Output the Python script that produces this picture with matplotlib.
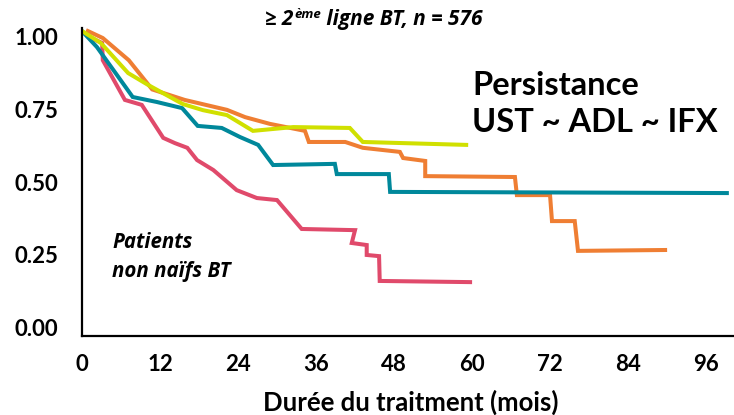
import numpy as np
import matplotlib.pyplot as plt
import matplotlib.transforms as mtransforms

# persistance curves, months vs fraction still on treatment
pink_t = [1.0, 3.1, 3.2, 6.6, 9.2, 12.5, 14.3, 16.2, 17.7, 20.2, 23.8, 26.9, 30.0,
          33.8, 42.0, 41.5, 43.8, 43.8, 45.7, 45.8, 59.7]
pink_s = [0.98, 0.959, 0.90, 0.764, 0.747, 0.634, 0.616, 0.60, 0.558, 0.524, 0.455,
          0.428, 0.421, 0.322, 0.318, 0.274, 0.267, 0.233, 0.229, 0.144, 0.140]

yellow_t = [0.0, 2.9, 7.1, 10.2, 15.5, 18.6, 22.3, 26.3, 32.5, 41.2, 43.2, 59.1]
yellow_s = [1.0, 0.959, 0.856, 0.815, 0.75, 0.729, 0.712, 0.658, 0.671, 0.668,
            0.62, 0.61]

orange_t = [0.9, 3.2, 7.2, 10.8, 15.8, 22.3, 25.1, 28.9, 34.3, 34.9, 40.5, 43.2,
            48.9, 49.4, 52.8, 52.8, 66.6, 66.9, 72.0, 72.3, 75.8, 76.3, 89.7]
orange_s = [1.0, 0.976, 0.90, 0.80, 0.764, 0.73, 0.705, 0.682, 0.658, 0.62, 0.62,
            0.60, 0.586, 0.565, 0.555, 0.503, 0.50, 0.438, 0.438, 0.349, 0.349,
            0.247, 0.25]

teal_t = [0.0, 2.3, 7.8, 11.5, 15.4, 17.8, 21.5, 24.3, 27.1, 29.4, 38.9, 39.2,
          47.2, 47.4, 99.2]
teal_s = [1.0, 0.945, 0.774, 0.757, 0.736, 0.675, 0.668, 0.637, 0.61, 0.541,
          0.545, 0.51, 0.51, 0.449, 0.445]

xticks = [0, 12, 24, 36, 48, 60, 72, 84, 96]
yticks = [0.0, 0.25, 0.5, 0.75, 1.0]

plt.rcParams['font.family'] = ['Lato', 'DejaVu Sans']
ital = ['Open Sans', 'DejaVu Sans']

fig = plt.figure(figsize=(7.34, 4.15), dpi=100)
ax = fig.add_axes([0.1117, 0.1904, 0.8883, 0.7421])

lw = 2.9
ax.plot(pink_t, pink_s, color='#E04A6B', lw=lw, solid_joinstyle='miter')
ax.plot(orange_t, orange_s, color='#EF7E33', lw=lw, solid_joinstyle='miter')
ax.plot(teal_t, teal_s, color='#00889B', lw=lw, solid_joinstyle='miter')
ax.plot(yellow_t, yellow_s, color='#D0E000', lw=lw, solid_joinstyle='miter')

ax.set_xlim(0, 100.3)
ax.set_ylim(-0.0445, 1.0103)
for side in ['top', 'right']:
    ax.spines[side].set_visible(False)
for side in ['left', 'bottom']:
    ax.spines[side].set_linewidth(1.6)
    ax.spines[side].set_color('black')

ax.set_xticks(xticks)
ax.set_xticklabels([str(x) for x in xticks])
ax.set_yticks(yticks)
ax.set_yticklabels(['%.2f' % y for y in yticks])
ax.tick_params(axis='both', length=0, labelsize=16)
ax.tick_params(axis='y', pad=17)
ax.tick_params(axis='x', pad=13)
for lab in ax.get_xticklabels() + ax.get_yticklabels():
    lab.set_fontweight('bold')

# y labels sit a little under the gridline values
shift = mtransforms.ScaledTranslation(0, -0.05, fig.dpi_scale_trans)
for lab in ax.get_yticklabels():
    lab.set_transform(lab.get_transform() + shift)

fig.text(411 / 734, 1 - 411 / 415, 'Durée du traitment (mois)', ha='center',
         va='baseline', fontsize=18.5, fontweight='bold')

# title with superscript
t1 = fig.text(265 / 734, 1 - 30 / 415, '≥ 2', ha='left', va='bottom',
              fontsize=15, fontweight='bold', style='italic', family=ital)
t2 = ax.annotate('ème', xy=(1, 1), xycoords=t1, xytext=(0.5, 1),
                 textcoords='offset points', ha='left', va='top',
                 fontsize=9.5, fontweight='bold', style='italic', family=ital,
                 annotation_clip=False)
ax.annotate(' ligne BT, n = 576', xy=(1, 0), xycoords=(t2, t1),
            ha='left', va='bottom', fontsize=15, fontweight='bold',
            style='italic', family=ital, annotation_clip=False)

fig.text(472 / 734, 1 - 95 / 415, 'Persistance', ha='left', va='baseline',
         fontsize=23.5, fontweight='bold')
fig.text(472 / 734, 1 - 132 / 415, 'UST ~ ADL ~ IFX', ha='left', va='baseline',
         fontsize=23.5, fontweight='bold')

fig.text(112 / 734, 1 - 248 / 415, 'Patients', ha='left', va='baseline',
         fontsize=14.8, fontweight='bold', style='italic', family=ital)
fig.text(112 / 734, 1 - 277 / 415, 'non naïfs BT', ha='left', va='baseline',
         fontsize=14.8, fontweight='bold', style='italic', family=ital)

fig.savefig('out.png', dpi=100)
